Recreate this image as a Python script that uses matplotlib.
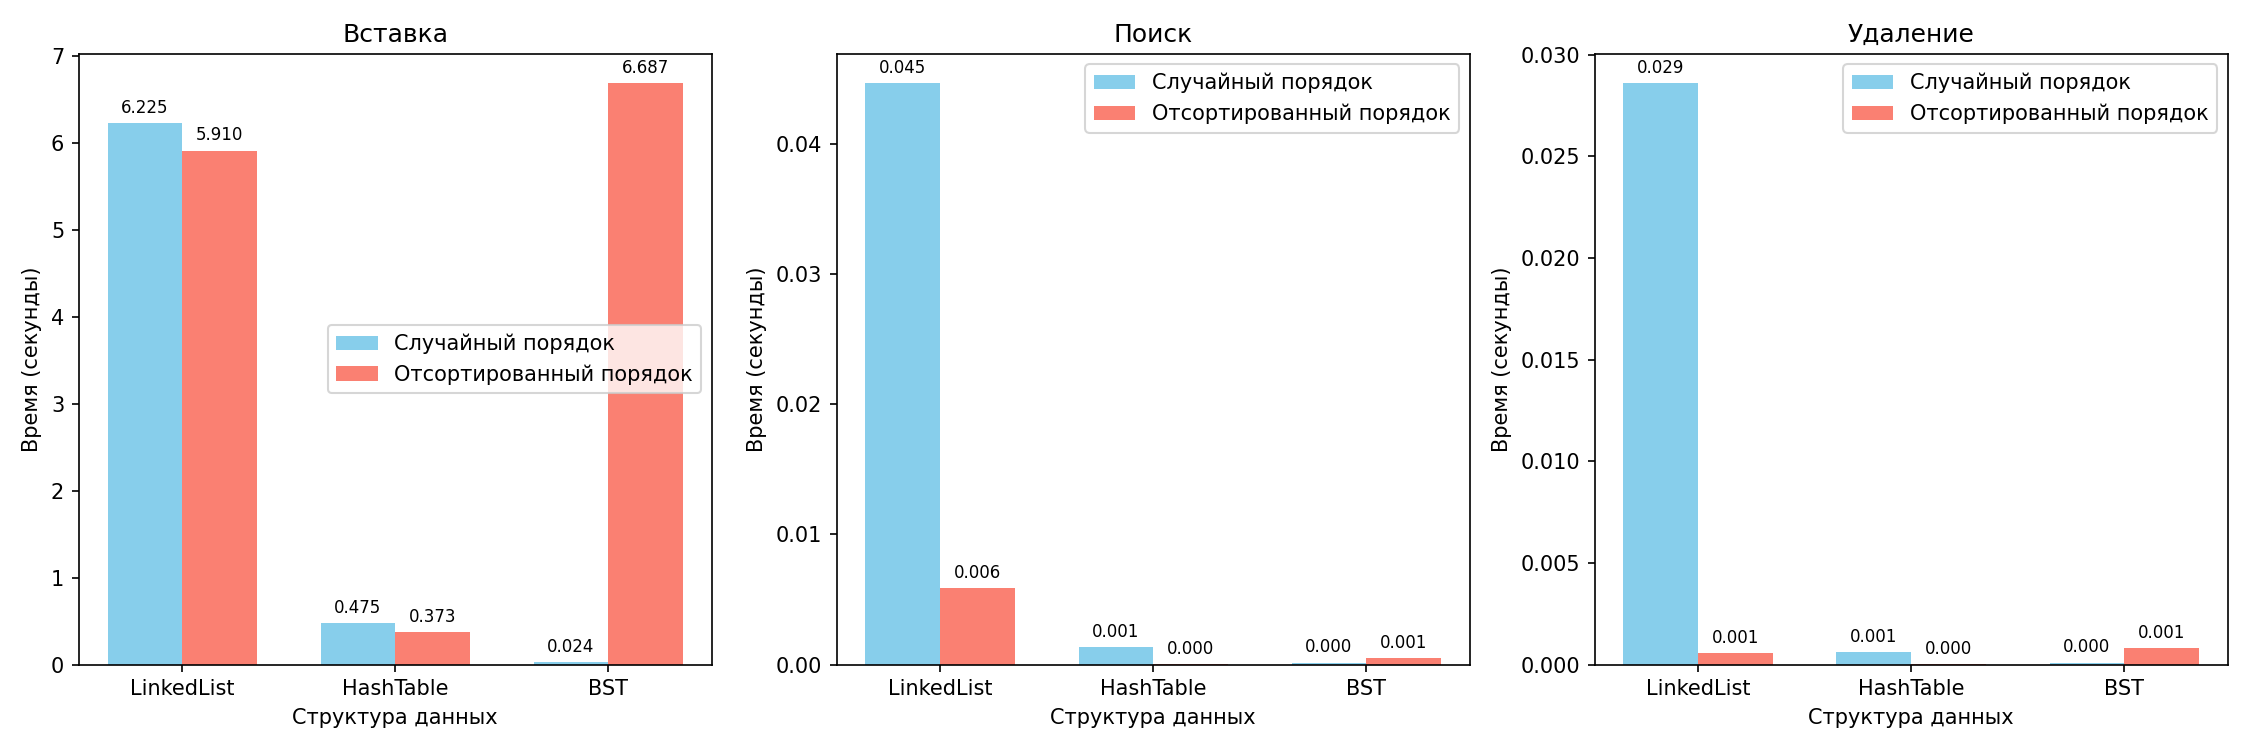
import matplotlib
matplotlib.use("Agg")
import matplotlib.pyplot as plt
import numpy as np

structures = ["LinkedList", "HashTable", "BST"]
operations = ["Вставка", "Поиск", "Удаление"]

# время (секунды): случайный / отсортированный порядок
insert_random = [6.225, 0.475, 0.024]
insert_sorted = [5.910, 0.373, 6.687]
search_random = [0.0447, 0.00137, 0.00015]
search_sorted = [0.00587, 0.00005, 0.00052]
delete_random = [0.0286, 0.00062, 0.0001]
delete_sorted = [0.00057, 0.00002, 0.00082]

data = [
    (insert_random, insert_sorted),
    (search_random, search_sorted),
    (delete_random, delete_sorted),
]
legend_locs = ["center right", "upper right", "upper right"]

fig, axes = plt.subplots(1, 3, figsize=(15, 5), dpi=150)
x = np.arange(len(structures))
width = 0.35

for ax, op, (rnd, srt), loc in zip(axes, operations, data, legend_locs):
    b1 = ax.bar(x - width / 2, rnd, width, label="Случайный порядок", color="skyblue")
    b2 = ax.bar(x + width / 2, srt, width, label="Отсортированный порядок", color="salmon")
    for bars in (b1, b2):
        for bar in bars:
            h = bar.get_height()
            ax.annotate(f"{h:.3f}", xy=(bar.get_x() + bar.get_width() / 2, h),
                        xytext=(0, 3), textcoords="offset points",
                        ha="center", va="bottom", fontsize=8)
    ax.set_title(op)
    ax.set_xlabel("Структура данных")
    ax.set_ylabel("Время (секунды)")
    ax.set_xticks(x)
    ax.set_xticklabels(structures)
    ax.legend(loc=loc)

plt.tight_layout()
plt.savefig("out.png")
